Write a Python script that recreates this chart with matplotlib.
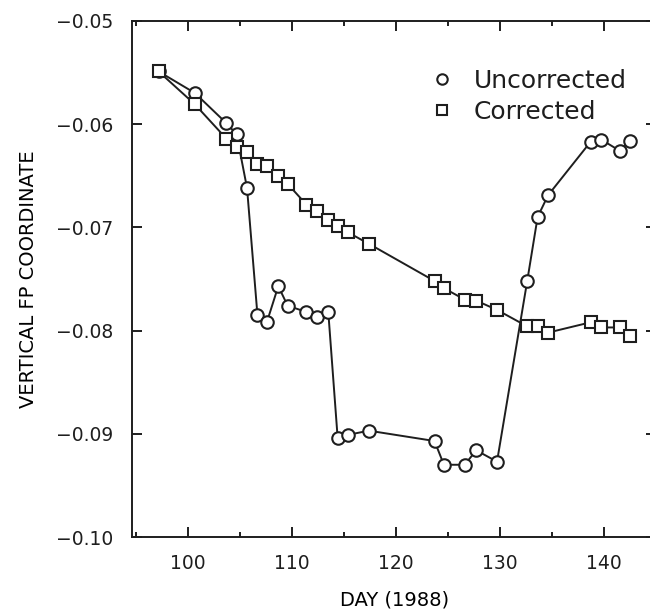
import matplotlib
matplotlib.use('Agg')
import matplotlib.pyplot as plt
from matplotlib.lines import Line2D
from matplotlib.ticker import MultipleLocator, FuncFormatter

# Data
days = [97.2, 100.7, 103.7, 104.7, 105.7, 106.7, 107.6, 108.7, 109.6, 111.4,
        112.4, 113.5, 114.4, 115.4, 117.4, 123.7, 124.6, 126.6, 127.7, 129.7,
        132.6, 133.6, 134.6, 138.7, 139.7, 141.5, 142.5]
uncorrected = [-0.0549, -0.0570, -0.0599, -0.0610, -0.0662, -0.0785, -0.0792,
               -0.0757, -0.0776, -0.0782, -0.0787, -0.0782, -0.0904, -0.0901,
               -0.0897, -0.0907, -0.0930, -0.0930, -0.0916, -0.0927, -0.0752,
               -0.0690, -0.0669, -0.0617, -0.0615, -0.0626, -0.0616]
corrected = [-0.0549, -0.0581, -0.0614, -0.0622, -0.0627, -0.0639, -0.0641,
             -0.0650, -0.0658, -0.0678, -0.0684, -0.0693, -0.0699, -0.0705,
             -0.0716, -0.0752, -0.0759, -0.0770, -0.0771, -0.0780, -0.0796,
             -0.0796, -0.0802, -0.0792, -0.0797, -0.0797, -0.0805]
labels = ['Uncorrected', 'Corrected']

ink = '#1e1e1e'
plt.rcParams.update({'font.family': 'DejaVu Sans', 'text.color': ink,
                     'axes.edgecolor': ink, 'xtick.color': ink, 'ytick.color': ink})

fig = plt.figure(figsize=(6.5, 6.12), dpi=100)
ax = fig.add_axes([0.2038, 0.1225, 0.806, 0.8435])

# Plot both series, open markers
ax.plot(days, uncorrected, color=ink, lw=1.4, marker='o', ms=9,
        mfc='white', mec=ink, mew=1.5, zorder=3)
ax.plot(days, corrected, color=ink, lw=1.4, marker='s', ms=8.2,
        mfc='white', mec=ink, mew=1.5, zorder=4)

ax.set_xlim(94.7, 145.0)
ax.set_ylim(-0.10, -0.05)

ax.xaxis.set_major_locator(MultipleLocator(10))
ax.xaxis.set_minor_locator(MultipleLocator(5))
ax.yaxis.set_major_locator(MultipleLocator(0.01))
ax.yaxis.set_major_formatter(FuncFormatter(lambda v, _: f'{v:.2f}'.replace('-', '\u2212')))

ax.tick_params(which='both', direction='in', top=True, right=True, width=1.4)
ax.tick_params(which='major', length=7.5, labelsize=13.5)
ax.tick_params(which='minor', length=3.5)
ax.tick_params(axis='x', pad=12)
ax.tick_params(axis='y', pad=14)
for s in ax.spines.values():
    s.set_linewidth(1.4)

ax.set_xlabel('DAY (1988)', fontsize=14, labelpad=13)
ax.set_ylabel('VERTICAL FP COORDINATE', fontsize=14, labelpad=13)

# Legend with markers only
handles = [Line2D([], [], ls='none', marker='o', ms=7.5, mfc='white', mec=ink, mew=1.5),
           Line2D([], [], ls='none', marker='s', ms=7, mfc='white', mec=ink, mew=1.5)]
ax.legend(handles, labels, loc='upper left', bbox_to_anchor=(0.6615, 0.888),
          bbox_transform=fig.transFigure, frameon=False, fontsize=18,
          handlelength=1.0, handletextpad=0.75, borderpad=0, borderaxespad=0,
          labelspacing=0.30)

fig.savefig('out.png', dpi=100)
